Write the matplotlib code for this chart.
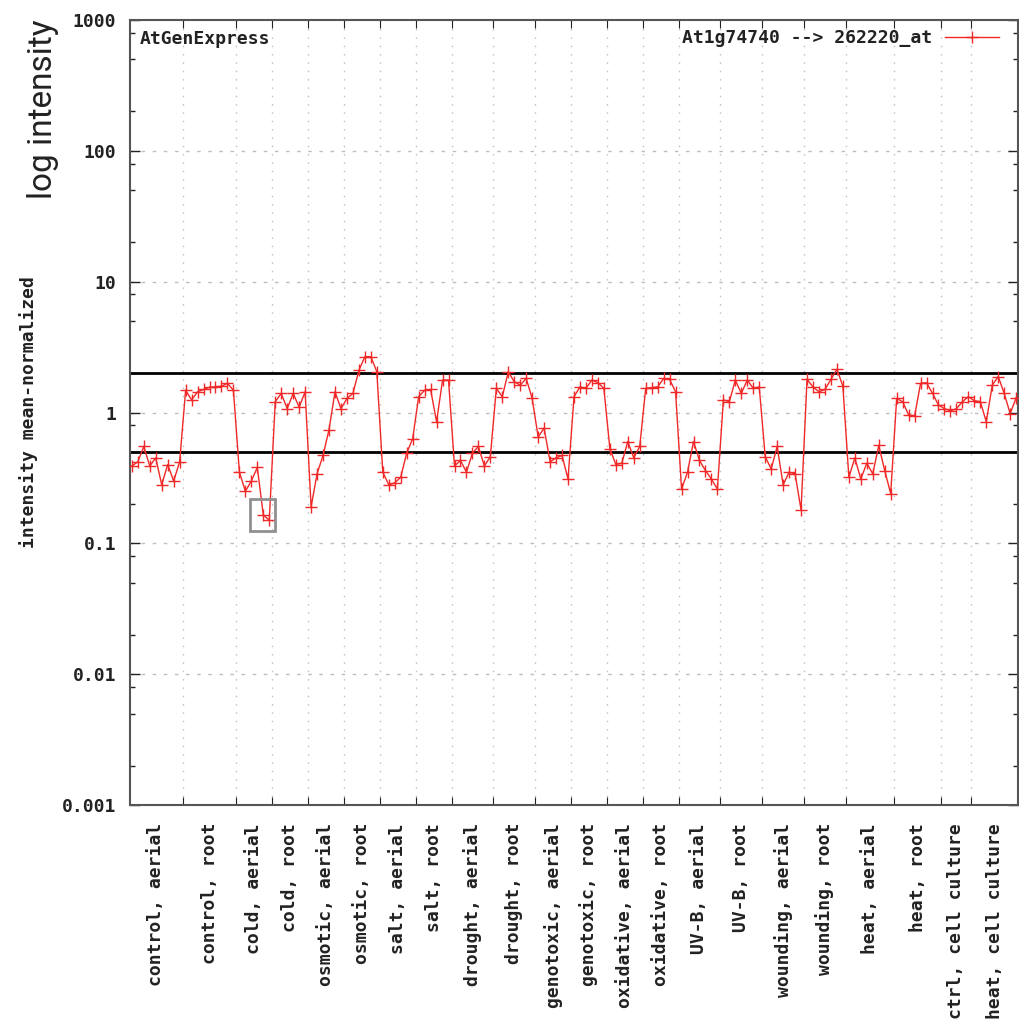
import matplotlib.pyplot as plt
import numpy as np
from matplotlib.patches import Rectangle

groups = [
    "control, aerial", "control, root", "cold, aerial", "cold, root",
    "osmotic, aerial", "osmotic, root", "salt, aerial", "salt, root",
    "drought, aerial", "drought, root", "genotoxic, aerial", "genotoxic, root",
    "oxidative, aerial", "oxidative, root", "UV-B, aerial", "UV-B, root",
    "wounding, aerial", "wounding, root", "heat, aerial", "heat, root",
    "ctrl, cell culture", "heat, cell culture",
]

# mean-normalized intensity per sample, one list per group
values = [
    [0.39, 0.42, 0.55, 0.39, 0.45, 0.28, 0.40, 0.30, 0.42],
    [1.48, 1.25, 1.44, 1.50, 1.56, 1.57, 1.59, 1.67, 1.48],
    [0.35, 0.25, 0.30, 0.38, 0.165, 0.15],
    [1.21, 1.40, 1.07, 1.40, 1.10, 1.44],
    [0.19, 0.34, 0.47, 0.74, 1.44, 1.07],
    [1.28, 1.40, 2.10, 2.67, 2.67, 2.05],
    [0.35, 0.28, 0.29, 0.32, 0.49, 0.63],
    [1.32, 1.48, 1.50, 0.85, 1.77, 1.77],
    [0.39, 0.43, 0.35, 0.49, 0.55, 0.39, 0.46],
    [1.53, 1.32, 2.05, 1.72, 1.62, 1.82, 1.28],
    [0.65, 0.76, 0.42, 0.45, 0.47, 0.31],
    [1.32, 1.57, 1.53, 1.77, 1.69, 1.53],
    [0.53, 0.40, 0.41, 0.60, 0.45, 0.55],
    [1.53, 1.55, 1.57, 1.82, 1.79, 1.44],
    [0.26, 0.35, 0.60, 0.43, 0.36, 0.31, 0.26],
    [1.25, 1.21, 1.77, 1.40, 1.77, 1.53, 1.57],
    [0.46, 0.37, 0.55, 0.28, 0.35, 0.34, 0.18],
    [1.79, 1.57, 1.44, 1.50, 1.79, 2.14, 1.59],
    [0.32, 0.45, 0.31, 0.41, 0.34, 0.56, 0.36, 0.24],
    [1.28, 1.21, 0.96, 0.94, 1.67, 1.69, 1.40, 1.14],
    [1.07, 1.03, 1.07, 1.21, 1.32],
    [1.23, 1.21, 0.85, 1.62, 1.88, 1.40, 0.98, 1.30],
]

thresholds = [2.0, 0.5]
y_ticks = [0.001, 0.01, 0.1, 1, 10, 100, 1000]
y_ticklabels = ["0.001", "0.01", "0.1", "1", "10", "100", "1000"]
legend_label = "At1g74740 --> 262220_at"

MONO = "DejaVu Sans Mono"
FS = 13
TXT = "#222222"

y = np.concatenate([np.array(v) for v in values])
x = np.arange(len(y))
sizes = np.array([len(v) for v in values])
bounds = np.cumsum(sizes)[:-1] - 0.5
starts = np.concatenate([[0], np.cumsum(sizes)[:-1]])
centers = starts + (sizes - 1) / 2

fig = plt.figure(figsize=(10.2, 10.25), dpi=100)
ax = fig.add_axes([0.1275, 0.2146, 0.8705, 0.7659])

ax.set_yscale("log")
ax.set_ylim(0.001, 1000)
ax.set_xlim(-0.3, len(y) - 0.7)

# dotted grid
for b in bounds:
    ax.axvline(b, color="#bdbdbd", lw=1, ls=(0, (1, 5)), zorder=1)
for t in y_ticks[1:-1]:
    ax.axhline(t, color="#bdbdbd", lw=1, ls=(0, (2.5, 5.5)), zorder=1)

for t in thresholds:
    ax.axhline(t, color="black", lw=2, zorder=2)

ax.plot(x, y, color="#f02828", lw=1, marker="+", ms=8, mew=1,
        label=legend_label, zorder=3)

# highlight box around the lowest cold, aerial samples
i0 = starts[2] + 4
ax.add_patch(Rectangle((i0 - 2.2, 0.124), 4.2, 0.22 - 0.124, fill=False,
                       edgecolor="#909090", lw=2, zorder=4))

ax.set_yticks(y_ticks)
ax.set_yticklabels(y_ticklabels, fontfamily=MONO, fontweight="bold", fontsize=FS)
minor_y = [m * d for d in [0.001, 0.01, 0.1, 1, 10, 100] for m in (2, 5, 8)]
ax.set_yticks(minor_y, minor=True)
ax.yaxis.set_minor_formatter(plt.NullFormatter())
ax.tick_params(axis="y", which="major", direction="in", length=7, width=1,
               pad=10, right=True, colors=TXT)
ax.tick_params(axis="y", which="minor", direction="in", length=3.5, width=1,
               right=True, colors=TXT)

ax.set_xticks(bounds)
ax.set_xticklabels([""] * len(bounds))
ax.set_xticks(centers, minor=True)
ax.set_xticklabels(groups, minor=True, rotation=90, va="top", ha="center",
                   fontfamily=MONO, fontweight="bold", fontsize=FS)
ax.tick_params(axis="x", which="major", direction="in", length=6, top=True,
               colors=TXT)
ax.tick_params(axis="x", which="minor", length=0, pad=13, colors=TXT)

for s in ax.spines.values():
    s.set_color("#555555")
    s.set_linewidth(1.5)

ax.set_ylabel("intensity mean-normalized", fontfamily=MONO, fontweight="bold",
              fontsize=FS, labelpad=17, color=TXT)

ax.text(0.011, 0.987, "AtGenExpress", transform=ax.transAxes, va="top", ha="left",
        fontfamily=MONO, fontweight="bold", fontsize=FS, color=TXT)

leg = ax.legend(loc="upper right", bbox_to_anchor=(0.997, 1.009), frameon=False,
                markerfirst=False, handlelength=3.0, handletextpad=0.7,
                prop={"family": MONO, "weight": "bold", "size": FS})
for t in leg.get_texts():
    t.set_color(TXT)

fig.text(0.042, 0.981, "log intensity", rotation=90, va="top", ha="center",
         fontfamily="Roboto", fontweight="normal", fontsize=24, color="#222222")

fig.savefig("out.png", dpi=100)
